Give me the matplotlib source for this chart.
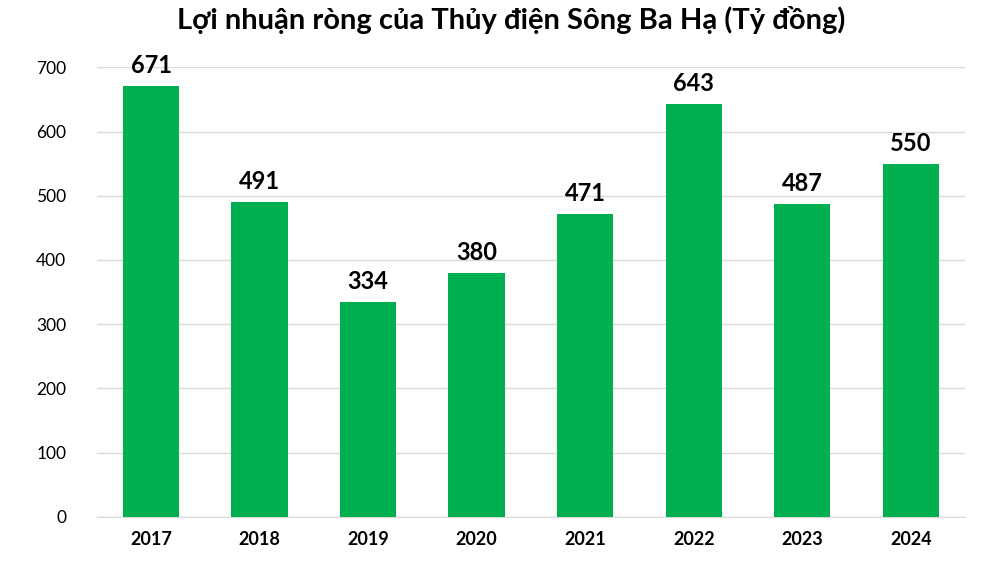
import matplotlib
matplotlib.use("Agg")
import matplotlib.pyplot as plt

years = ["2017", "2018", "2019", "2020", "2021", "2022", "2023", "2024"]
profit = [671, 491, 334, 380, 471, 643, 487, 550]

plt.rcParams["font.family"] = ["Lato", "DejaVu Sans"]

fig = plt.figure(figsize=(9.99, 5.75), dpi=100)
ax = fig.add_axes([0.097, 0.101, 0.869, 0.782])

x = range(len(years))
bars = ax.bar(x, profit, width=0.52, color="#00B050", zorder=3)
for bar, v in zip(bars, profit):
    ax.text(bar.get_x() + bar.get_width() / 2, v + 14, str(v),
            ha="center", va="bottom", fontsize=17, fontweight="bold")

ax.set_ylim(0, 700)
ax.set_xlim(-0.5, len(years) - 0.5)
ax.set_yticks(range(0, 701, 100))
ax.set_xticks(list(x))
ax.set_xticklabels(years, fontweight="bold", fontsize=13)
ax.tick_params(axis="y", labelsize=12.5, length=0, pad=22)
ax.tick_params(axis="x", length=0, pad=10)
ax.grid(axis="y", color="#d9d9d9", lw=1, zorder=0)
for s in ["top", "right", "left"]:
    ax.spines[s].set_visible(False)
ax.spines["bottom"].set_color("#d9d9d9")

fig.suptitle("Lợi nhuận ròng của Thủy điện Sông Ba Hạ (Tỷ đồng)",
             fontsize=21, fontweight="bold", y=0.99, x=0.512)

fig.savefig("out.png", dpi=100)
